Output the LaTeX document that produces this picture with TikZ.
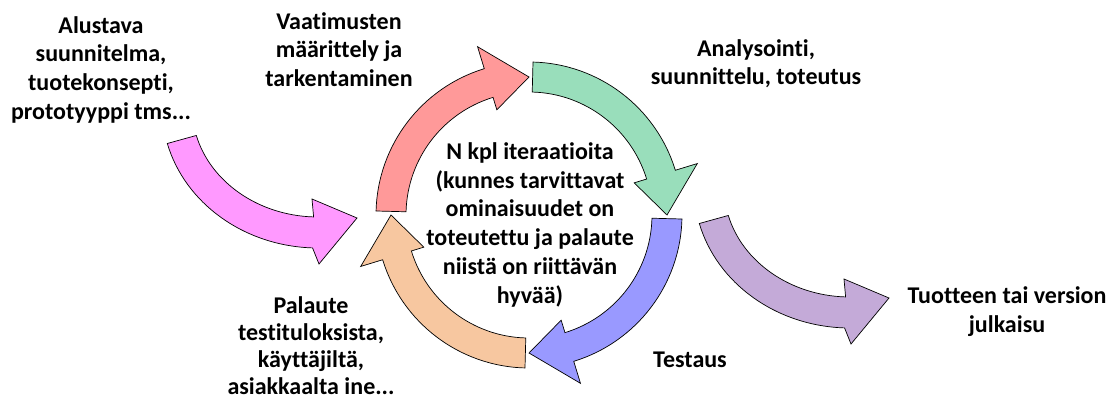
\documentclass[tikz,border=0pt]{standalone}
\usepackage{fontspec}
\setmainfont[Ligatures={NoCommon}]{Carlito}

\definecolor{ringred}{RGB}{255,153,153}
\definecolor{ringgreen}{RGB}{153,222,187}
\definecolor{ringblue}{RGB}{153,153,255}
\definecolor{ringpeach}{RGB}{247,199,160}
\definecolor{sidepink}{RGB}{255,153,255}
\definecolor{sidepurple}{RGB}{196,170,216}

% invisible strut so every text block has the same first-line height
\newcommand\firstlinestrut{\rule{0pt}{18pt}}

% curved arrow on the iteration ring: fill, tail angle, head-base angle, tip angle
\newcommand\ringarrow[4]{%
  \draw[shapeline, fill=#1]
    (#2:153) arc[start angle=#2, end angle=#3, radius=153pt]
    -- (#3:176) -- (#4:138) -- (#3:110) -- (#3:123)
    arc[start angle=#3, end angle=#2, radius=123pt] -- cycle;}

% quarter-ellipse arrow bending from top-left down to the right
\newcommand\sidearrow[1]{%
  \draw[shapeline, fill=#1]
    (195:156 and 141) arc[start angle=195, end angle=268, x radius=156pt, y radius=141pt]
    -- (1,-157) -- (39,-111) -- (-6,-92) -- (268:126 and 110)
    arc[start angle=268, end angle=195, x radius=126pt, y radius=110pt] -- cycle;}

\begin{document}
\begin{tikzpicture}[x=1pt,y=1pt,
  shapeline/.style={draw=black, line width=0.7pt, line join=miter},
  txt/.style={font=\bfseries\fontsize{24}{28.8}\selectfont, align=center,
              anchor=north, inner sep=0pt, text=black}]
\useasboundingbox (0,0) rectangle (1108,-401);

% centres of the arrows
\coordinate (ring) at (529,-215);
\coordinate (inarrow) at (318,-107);
\coordinate (outarrow) at (850,-187);

% incoming and outgoing arrows
\begin{scope}[shift={(inarrow)}]
  \sidearrow{sidepink}
\end{scope}
\begin{scope}[shift={(outarrow)}]
  \sidearrow{sidepurple}
\end{scope}

% the iteration cycle
\begin{scope}[shift={(ring)}]
  \ringarrow{ringred}{178.5}{107}{90}
  \ringarrow{ringgreen}{88.5}{17}{0}
  \ringarrow{ringblue}{-1.5}{-73}{-90}
  \ringarrow{ringpeach}{-91.5}{-163}{-180}
\end{scope}

% texts
\node[txt] (start) at (101,-15) {\firstlinestrut Alustava\\suunnitelma,\\tuotekonsepti,\\prototyyppi tms...};
\node[txt] (req) at (339,-11) {\firstlinestrut Vaatimusten\\määrittely ja\\tarkentaminen};
\node[txt] (dev) at (756,-38) {\firstlinestrut Analysointi,\\suunnittelu, toteutus};
\node[txt] (iter) at (530,-141) {\firstlinestrut N kpl iteraatioita\\(kunnes tarvittavat\\ominaisuudet on\\toteutettu ja palaute\\niistä on riittävän\\hyvää)};
\node[txt, font=\bfseries\fontsize{24}{27}\selectfont] (feedback) at (311,-295) {\firstlinestrut Palaute\\testituloksista,\\käyttäjiltä,\\asiakkaalta ine...};
\node[txt] (test) at (690,-349) {\firstlinestrut Testaus};
\node[txt] (release) at (1007,-285) {\firstlinestrut Tuotteen tai version\\julkaisu};
\end{tikzpicture}
\end{document}
